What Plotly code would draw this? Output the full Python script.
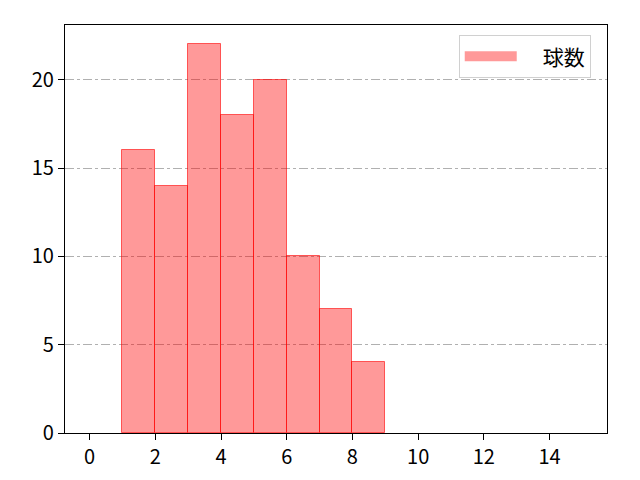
import plotly.graph_objects as go

# histogram bins (left edges) and counts
bin_left = [1, 2, 3, 4, 5, 6, 7, 8]
counts = [16, 14, 22, 18, 20, 10, 7, 4]
series_name = "球数"

x_ticks = [0, 2, 4, 6, 8, 10, 12, 14]
y_ticks = [0, 5, 10, 15, 20]

fig = go.Figure()
fig.add_trace(go.Bar(
    x=[b + 0.5 for b in bin_left],
    y=counts,
    width=1,
    name=series_name,
    marker=dict(color="rgba(255,0,0,0.4)",
                line=dict(color="rgba(255,0,0,0.6)", width=1)),
    showlegend=False,
))
# legend entry only: a thick line gives a wide patch like matplotlib's,
# the em space leaves the gap between patch and label
fig.add_trace(go.Scatter(
    x=[None], y=[None], mode="lines", name="\u2003" + series_name,
    line=dict(color="rgba(255,0,0,0.4)", width=18),
))

axis_common = dict(
    showline=True, linecolor="black", linewidth=1.3, mirror=True,
    ticks="outside", ticklen=6, tickcolor="black", tickwidth=1.2,
    tickfont=dict(size=20, color="black"),
    zeroline=False, automargin=False,
)

# page body has an 8px margin, so margins are shifted to compensate
fig.update_layout(
    width=640, height=480,
    margin=dict(l=57, r=41, t=17, b=55),
    paper_bgcolor="white", plot_bgcolor="white",
    font=dict(family="Noto Sans CJK JP, DejaVu Sans, sans-serif"),
    bargap=0,
    xaxis=dict(range=[-0.75, 15.75], tickvals=x_ticks, showgrid=False, **axis_common),
    yaxis=dict(range=[0, 23.1], tickvals=y_ticks, showgrid=True,
               gridcolor="#b0b0b0", griddash="dashdot", gridwidth=0.8, **axis_common),
    legend=dict(x=0.97, y=0.975, xanchor="right", yanchor="top",
                bgcolor="white", bordercolor="#d0d0d0", borderwidth=1,
                itemwidth=52,
                font=dict(size=21, color="black")),
)

fig.write_html("out.html")
